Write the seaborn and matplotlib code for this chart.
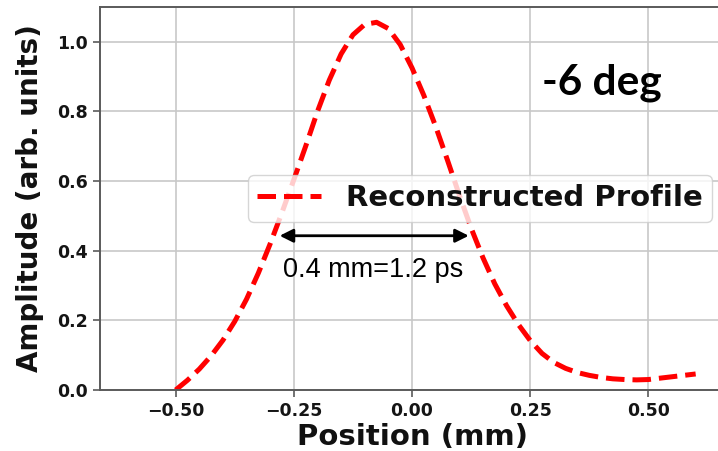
import matplotlib
matplotlib.use("Agg")
import matplotlib.pyplot as plt
import seaborn as sns
import pandas as pd

# Reconstructed longitudinal profile
position_mm = [-0.500, -0.475, -0.450, -0.425, -0.400, -0.375, -0.350, -0.325,
               -0.300, -0.275, -0.250, -0.225, -0.200, -0.175, -0.150, -0.125,
               -0.100, -0.075, -0.050, -0.025, 0.000, 0.025, 0.050, 0.075,
               0.100, 0.125, 0.150, 0.175, 0.200, 0.225, 0.250, 0.275,
               0.300, 0.325, 0.350, 0.375, 0.400, 0.425, 0.450, 0.475,
               0.500, 0.525, 0.550, 0.575, 0.600]
amplitude = [0.000, 0.028, 0.060, 0.098, 0.143, 0.197, 0.261, 0.336,
             0.420, 0.510, 0.604, 0.700, 0.800, 0.890, 0.965, 1.020,
             1.050, 1.056, 1.038, 0.992, 0.925, 0.846, 0.757, 0.660,
             0.560, 0.465, 0.380, 0.305, 0.242, 0.188, 0.142, 0.105,
             0.079, 0.062, 0.050, 0.042, 0.036, 0.032, 0.030, 0.029,
             0.030, 0.034, 0.038, 0.042, 0.046]

x_ticks = [-0.50, -0.25, 0.00, 0.25, 0.50]
y_ticks = [0.0, 0.2, 0.4, 0.6, 0.8, 1.0]

# FWHM marker
fwhm_start, fwhm_end, fwhm_level = -0.28, 0.12, 0.443
fwhm_label = "0.4 mm=1.2 ps"
angle_label = "-6 deg"
series_name = "Reconstructed Profile"

sns.set_style("whitegrid", {
    "grid.color": "#c8c8c8",
    "axes.edgecolor": "#5a5a5a",
    "xtick.bottom": True,
    "ytick.left": True,
})

df = pd.DataFrame({"Position (mm)": position_mm, "Amplitude": amplitude})

fig = plt.figure(figsize=(7.18, 4.51), dpi=100)
ax = fig.add_axes([0.1393, 0.1353, 0.8691, 0.8492])

sns.lineplot(data=df, x="Position (mm)", y="Amplitude", ax=ax,
             color="#ff0000", linestyle="--", linewidth=3.6,
             label=series_name, estimator=None)

ax.set_xlim(-0.66, 0.66)
ax.set_ylim(0.0, 1.1)
ax.set_xticks(x_ticks)
ax.set_xticklabels([f"{v:.2f}".replace("-", "\u2212") for v in x_ticks])
ax.set_yticks(y_ticks)
ax.set_yticklabels([f"{v:.1f}" for v in y_ticks])
ax.tick_params(axis="both", labelsize=12.5, length=5, width=1.2,
               color="#5a5a5a", pad=4, labelcolor="#151515")
for lbl in ax.get_xticklabels() + ax.get_yticklabels():
    lbl.set_fontweight("bold")
ax.grid(True, linewidth=1.2)
for side in ["left", "bottom", "top", "right"]:
    ax.spines[side].set_linewidth(1.4)

ax.set_xlabel("Position (mm)", fontsize=21, fontweight="bold", labelpad=2,
              color="#111111")
ax.set_ylabel("Amplitude (arb. units)", fontsize=20, fontweight="bold",
              labelpad=9, color="#111111")

leg = ax.legend(loc="upper right", bbox_to_anchor=(0.981, 0.561),
                borderaxespad=0, prop={"weight": "bold", "size": 21},
                handlelength=2.2, handletextpad=0.85, borderpad=0.32,
                framealpha=0.8, edgecolor="#cccccc", fancybox=True)
for t in leg.get_texts():
    t.set_color("#111111")

ax.annotate("", xy=(fwhm_start, fwhm_level), xytext=(fwhm_end, fwhm_level),
            arrowprops=dict(arrowstyle="<|-|>", color="black", lw=2,
                            mutation_scale=20, shrinkA=0, shrinkB=0))
ax.text(-0.273, 0.325, fwhm_label, fontsize=19.5, family="Liberation Sans",
        ha="left", va="baseline", color="black")

fig.text(542 / 718, 1 - 95 / 451, angle_label, fontsize=30.5,
         fontweight="bold", family="Lato", ha="left", va="baseline",
         color="black")

fig.savefig("out.png", dpi=100)
